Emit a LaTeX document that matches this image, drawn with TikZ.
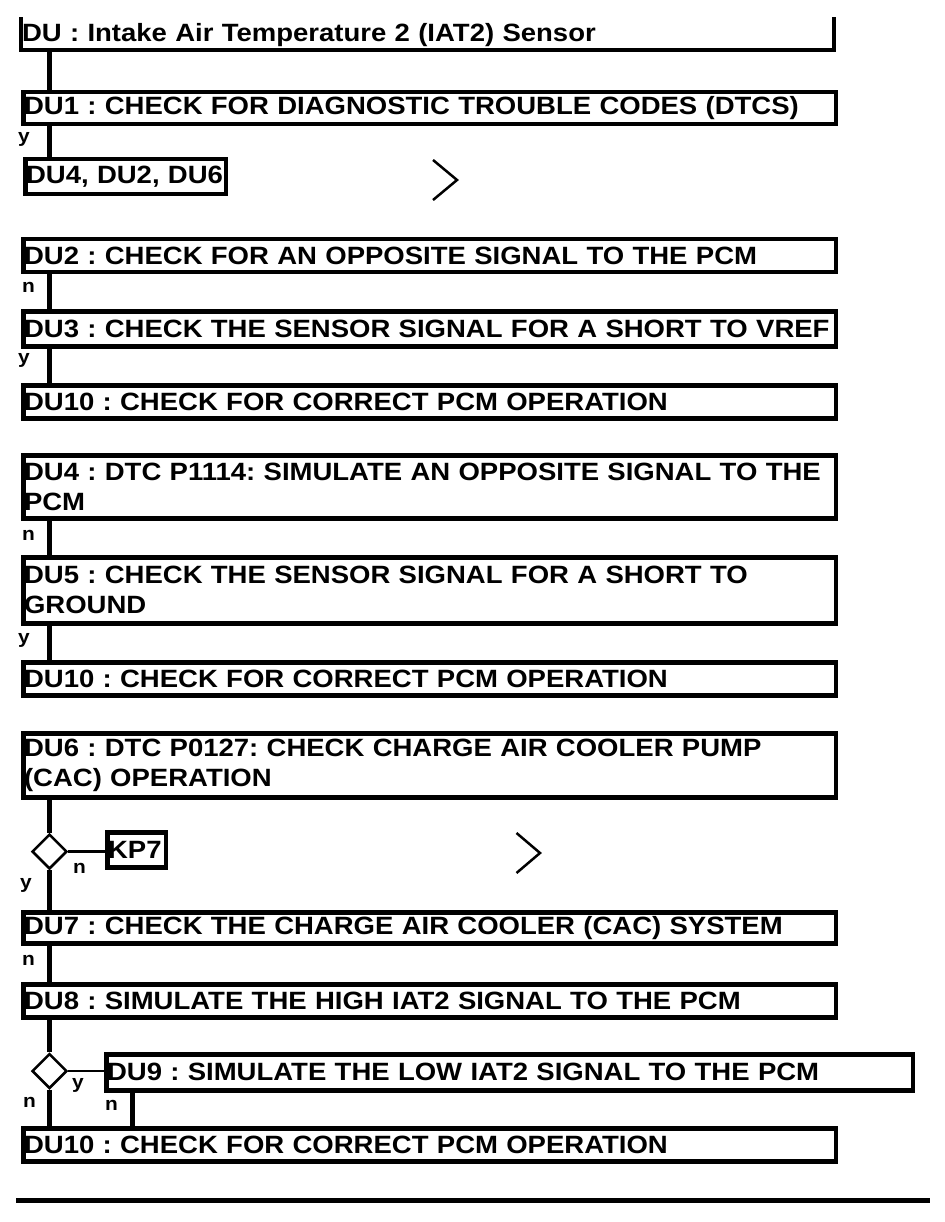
\documentclass[tikz,border=0pt]{standalone}
\usepackage{fontspec}
\setmainfont{Liberation Sans}[FakeStretch=1.1]
\usetikzlibrary{shapes.geometric}
\frenchspacing
\begin{document}
\begin{tikzpicture}[x=1pt,y=-1pt,
  txt/.style={font=\bfseries\fontsize{25}{30}\selectfont},
  box/.style={txt, draw, line width=4.5pt, anchor=north west, inner xsep=0.8pt, inner ysep=0pt, align=left, text width=811pt},
  lbl/.style={font=\bfseries\fontsize{19}{20}\selectfont, anchor=base west, inner sep=0pt},
  conn/.style={line width=4.5pt},
  thinline/.style={line width=2.5pt},
  dec/.style={draw, diamond, aspect=1, minimum width=35pt, minimum height=35pt, inner sep=0pt, line width=2.5pt},
]
\useasboundingbox (0,0) rectangle (944,1222);
\coordinate (xl) at (49.5,0);
\coordinate (x2) at (132.5,0);

% title (open top)
\node[txt, anchor=north west, inner xsep=0.8pt, inner ysep=0pt, minimum height=29pt, text width=811pt, align=left] (du) at (21,20.5) {DU : Intake Air Temperature 2 (IAT2) Sensor};
\draw[conn] (du.south west) ++(0,-32.5) -- (du.south west) -- (du.south east) -- ++(0,-32.5);

\node[box, minimum height=32pt] (du1) at (21,90) {DU1 : CHECK FOR DIAGNOSTIC TROUBLE CODES (DTCS)};
\node[box, text width=199pt, minimum height=35pt] (ref) at (23,157) {DU4, DU2, DU6};
\node[box, minimum height=33pt] (du2) at (21,237) {DU2 : CHECK FOR AN OPPOSITE SIGNAL TO THE PCM};
\node[box, minimum height=35pt] (du3) at (21,309) {DU3 : CHECK THE SENSOR SIGNAL FOR A SHORT TO VREF};
\node[box, minimum height=33pt] (du10a) at (21,383) {DU10 : CHECK FOR CORRECT PCM OPERATION};
\node[box, minimum height=63pt] (du4) at (21,453) {DU4 : DTC P1114: SIMULATE AN OPPOSITE SIGNAL TO THE\\PCM};
\node[box, minimum height=66pt] (du5) at (21,555) {DU5 : CHECK THE SENSOR SIGNAL FOR A SHORT TO\\GROUND};
\node[box, minimum height=33pt] (du10b) at (21,660) {DU10 : CHECK FOR CORRECT PCM OPERATION};
\node[box, minimum height=64pt] (du6) at (21,731) {DU6 : DTC P0127: CHECK CHARGE AIR COOLER PUMP\\(CAC) OPERATION};
\node[dec] (d1) at (49.5,851.5) {};
\node[box, text width=57pt, minimum height=35pt] (kp7) at (105,830) {KP7};
\node[box, minimum height=31pt] (du7) at (21,910) {DU7 : CHECK THE CHARGE AIR COOLER (CAC) SYSTEM};
\node[box, minimum height=33pt] (du8) at (21,982) {DU8 : SIMULATE THE HIGH IAT2 SIGNAL TO THE PCM};
\node[dec] (d2) at (49.5,1071) {};
\node[box, text width=805pt, minimum height=36pt] (du9) at (104,1052) {DU9 : SIMULATE THE LOW IAT2 SIGNAL TO THE PCM};
\node[box, minimum height=33pt] (du10c) at (21,1126) {DU10 : CHECK FOR CORRECT PCM OPERATION};

% connectors
\draw[conn] (du.south -| xl) -- (du1.north -| xl);
\draw[conn] (du1.south -| xl) -- (ref.north -| xl);
\draw[conn] (du2.south -| xl) -- (du3.north -| xl);
\draw[conn] (du3.south -| xl) -- (du10a.north -| xl);
\draw[conn] (du4.south -| xl) -- (du5.north -| xl);
\draw[conn] (du5.south -| xl) -- (du10b.north -| xl);
\draw[conn] (du6.south -| xl) -- (d1.north);
\draw[conn] (d1.south) -- (du7.north -| xl);
\draw[thinline] (d1.east) -- (d1.east -| kp7.west);
\draw[conn] (du7.south -| xl) -- (du8.north -| xl);
\draw[conn] (du8.south -| xl) -- (d2.north);
\draw[conn] (d2.south) -- (du10c.north -| xl);
\draw[thinline] (d2.east) -- (d2.east -| du9.west);
\draw[conn] (du9.south -| x2) -- (du10c.north -| x2);

% labels
\node[lbl] at (18,143) {y};
\node[lbl] at (22,293) {n};
\node[lbl] at (18,363) {y};
\node[lbl] at (22,540) {n};
\node[lbl] at (18,643) {y};
\node[lbl] at (20,888) {y};
\node[lbl] at (73,873) {n};
\node[lbl] at (22,965) {n};
\node[lbl] at (72,1088) {y};
\node[lbl] at (23,1107) {n};
\node[lbl] at (105,1110) {n};

% chevrons
\draw[thinline] (433,160) -- (457,180) -- (433,200);
\draw[thinline] (516.5,833) -- (540,853) -- (516.5,873);

% bottom rule
\draw[line width=5pt] (16,1200) -- (930,1200);
\end{tikzpicture}
\end{document}
